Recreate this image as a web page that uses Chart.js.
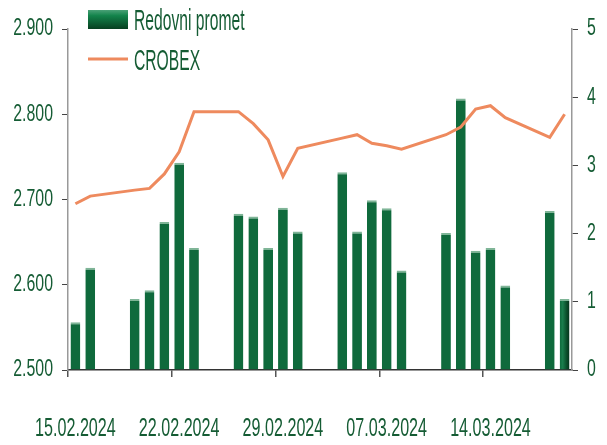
<!DOCTYPE html>
<html>
<head>
<meta charset="utf-8">
<script src="https://cdn.jsdelivr.net/npm/chart.js@4.4.1/dist/chart.umd.min.js"></script>
<style>
html, body { margin: 0; padding: 0; background: #fff; }
#okvir { width: 607px; height: 445px; }
</style>
</head>
<body>
<div id="okvir"><canvas id="grafikon"></canvas></div>
<script>
const datumi = [
    '15.02.2024', '16.02.2024', '17.02.2024', '18.02.2024', '19.02.2024', '20.02.2024', '21.02.2024',
    '22.02.2024', '23.02.2024', '24.02.2024', '25.02.2024', '26.02.2024', '27.02.2024', '28.02.2024',
    '29.02.2024', '01.03.2024', '02.03.2024', '03.03.2024', '04.03.2024', '05.03.2024', '06.03.2024',
    '07.03.2024', '08.03.2024', '09.03.2024', '10.03.2024', '11.03.2024', '12.03.2024', '13.03.2024',
    '14.03.2024', '15.03.2024', '16.03.2024', '17.03.2024', '18.03.2024', '19.03.2024'
];

// redovni promet (mil. EUR), desna os; vikendi bez podataka
const redovniPromet = [
    0.70, 1.50, null, null, 1.04, 1.17, 2.17,
    3.04, 1.79, null, null, 2.29, 2.25, 1.79,
    2.38, 2.03, null, null, 2.90, 2.03, 2.49,
    2.37, 1.46, null, null, 2.01, 3.98, 1.75,
    1.79, 1.24, null, null, 2.33, 1.04
];

// CROBEX, lijeva os
const crobex = [
    2695, 2704, null, null, 2711, 2713, 2730,
    2756, 2803, null, null, 2803, 2789, 2770,
    2727, 2760, null, null, 2772, 2776, 2766,
    2763, 2759, null, null, 2776, 2785, 2806,
    2810, 2796, null, null, 2773, 2800
];

const lijevaOs = [2500, 2600, 2700, 2800, 2900];
const desnaOs = [0, 1, 2, 3, 4, 5];

const bojaTeksta = '#155c34';
const bojaLinije = '#ee8a5e';
const font = "'Liberation Sans', Arial, sans-serif";

// uski font: koliko se tekst stisne po sirini, prema velicini fonta
const suzenje = { 23: 0.69, 26: 0.62, 29: 0.54 };

function formatTocka(v) {
    return Math.floor(v / 1000) + '.' + String(v % 1000).padStart(3, '0');
}

const canvas = document.getElementById('grafikon');
const ctx = canvas.getContext('2d');

const izvorniFillText = ctx.fillText;
ctx.fillText = function (tekst, x, y) {
    const m = /(\d+(?:\.\d+)?)px/.exec(this.font);
    const sx = (m && suzenje[Math.round(parseFloat(m[1]))]) || 1;
    if (sx === 1) return izvorniFillText.call(this, tekst, x, y);
    this.save();
    this.translate(x, y);
    this.scale(sx, 1);
    izvorniFillText.call(this, tekst, 0, 0);
    this.restore();
};

// gradijent na stupcima (svjetlije lijevo, tamnije desno)
const gradijentPlugin = {
    id: 'gradijent',
    beforeDatasetsDraw(chart) {
        const c = chart.ctx;
        const meta = chart.getDatasetMeta(1);
        meta.data.forEach(function (el) {
            if (!el || el.skip) return;
            const x0 = el.x - el.width / 2;
            const g = c.createLinearGradient(x0, 0, x0 + el.width, 0);
            g.addColorStop(0, '#0f6a3c');
            g.addColorStop(0.3, '#1a7d4c');
            g.addColorStop(0.7, '#0b4f2b');
            g.addColorStop(1, '#05331b');
            el.options.backgroundColor = g;
        });
    }
};

const legendaPlugin = {
    id: 'legenda',
    afterDraw(chart) {
        const c = chart.ctx;
        const a = chart.chartArea;
        const x = a.left + 20;
        c.save();
        const g = c.createLinearGradient(0, a.top - 19, 0, a.top);
        g.addColorStop(0, '#4aa177');
        g.addColorStop(0.3, '#13834b');
        g.addColorStop(1, '#073f20');
        c.fillStyle = g;
        c.fillRect(x, a.top - 19, 40, 19);

        c.strokeStyle = bojaLinije;
        c.lineWidth = 3;
        c.beginPath();
        c.moveTo(x, a.top + 30);
        c.lineTo(x + 40, a.top + 30);
        c.stroke();

        c.fillStyle = bojaTeksta;
        c.font = '29px ' + font;
        c.textAlign = 'left';
        c.textBaseline = 'alphabetic';
        c.fillText('Redovni promet', x + 46, a.top + 1);
        c.fillText('CROBEX', x + 46, a.top + 41);
        c.restore();
    }
};

new Chart(ctx, {
    data: {
        labels: datumi,
        datasets: [{
            type: 'line',
            label: 'CROBEX',
            data: crobex,
            yAxisID: 'y',
            borderColor: bojaLinije,
            borderWidth: 3,
            pointRadius: 0,
            tension: 0,
            spanGaps: true,
            order: 0
        }, {
            type: 'bar',
            label: 'Redovni promet',
            data: redovniPromet,
            yAxisID: 'y1',
            backgroundColor: '#0d5c33',
            borderColor: '#7fb597',
            borderWidth: { top: 2, left: 0, right: 0, bottom: 0 },
            borderSkipped: 'bottom',
            barPercentage: 0.66,
            categoryPercentage: 1,
            order: 1
        }]
    },
    options: {
        responsive: true,
        maintainAspectRatio: false,
        animation: false,
        layout: { padding: { top: 29, left: 0, right: 0, bottom: 0 } },
        plugins: {
            legend: { display: false },
            tooltip: { enabled: false }
        },
        scales: {
            x: {
                offset: true,
                border: { display: true, color: '#333', width: 1.5 },
                grid: {
                    offset: true,
                    drawOnChartArea: false,
                    drawTicks: true,
                    tickLength: 7,
                    lineWidth: 1.5,
                    color: c => (c.index !== undefined && c.index % 7 === 0) ? '#555' : 'rgba(0,0,0,0)'
                },
                ticks: {
                    autoSkip: false,
                    maxRotation: 0,
                    padding: 36,
                    color: bojaTeksta,
                    font: { family: font, size: 26 },
                    callback: function (v, i) { return i % 7 === 0 ? datumi[i] : ''; }
                },
                afterFit: s => { s.height = 75; s.paddingLeft = 0; s.paddingRight = 0; }
            },
            y: {
                position: 'left',
                min: lijevaOs[0],
                max: lijevaOs[lijevaOs.length - 1],
                border: { display: true, color: '#999', width: 1.5 },
                grid: { drawOnChartArea: false, drawTicks: true, tickLength: 6, color: '#444' },
                afterBuildTicks: s => { s.ticks = lijevaOs.map(v => ({ value: v })); },
                ticks: {
                    padding: 9,
                    color: bojaTeksta,
                    font: { family: font, size: 23 },
                    callback: v => formatTocka(v)
                },
                afterFit: s => { s.width = 68; s.paddingTop = 0; s.paddingBottom = 0; }
            },
            y1: {
                position: 'right',
                min: desnaOs[0],
                max: desnaOs[desnaOs.length - 1],
                border: { display: true, color: '#999', width: 1.5 },
                grid: { drawOnChartArea: false, drawTicks: true, tickLength: 6, color: '#444' },
                afterBuildTicks: s => { s.ticks = desnaOs.map(v => ({ value: v })); },
                ticks: {
                    padding: 9,
                    color: bojaTeksta,
                    font: { family: font, size: 23 }
                },
                afterFit: s => { s.width = 35; s.paddingTop = 0; s.paddingBottom = 0; }
            }
        }
    },
    plugins: [gradijentPlugin, legendaPlugin]
});
</script>
</body>
</html>
